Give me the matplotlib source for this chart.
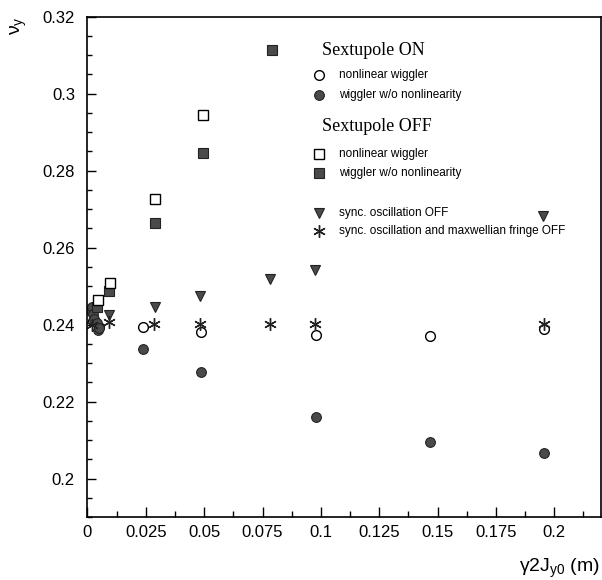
import numpy as np
from matplotlib import pyplot as plt
from matplotlib.ticker import MultipleLocator, FixedFormatter, FixedLocator

plt.rcParams['font.family'] = ['Liberation Sans', 'DejaVu Sans']
plt.rcParams['mathtext.fontset'] = 'custom'
plt.rcParams['mathtext.rm'] = 'Liberation Sans'
plt.rcParams['mathtext.it'] = 'Liberation Sans'

# Sextupole ON
on_nl_x = [0.0025, 0.0049, 0.0238, 0.0486, 0.0978, 0.1466, 0.1958]
on_nl_y = [0.2410, 0.2395, 0.2394, 0.2381, 0.2373, 0.2371, 0.2389]
on_lin_x = [0.0015, 0.0020, 0.0025, 0.0030, 0.0040, 0.0045, 0.0049, 0.0238, 0.0486, 0.0978, 0.1466, 0.1958]
on_lin_y = [0.2436, 0.2445, 0.2428, 0.2415, 0.2403, 0.2387, 0.2392, 0.2337, 0.2277, 0.2160, 0.2095, 0.2067]

# Sextupole OFF
off_nl_x = [0.0045, 0.0096, 0.0289, 0.0494]
off_nl_y = [0.2464, 0.2508, 0.2727, 0.2945]
off_lin_x = [0.0040, 0.0092, 0.0289, 0.0494, 0.0791]
off_lin_y = [0.2446, 0.2487, 0.2665, 0.2847, 0.3113]

sync_x = [0.0092, 0.0289, 0.0482, 0.0781, 0.0974, 0.1950]
sync_y = [0.2425, 0.2446, 0.2474, 0.2519, 0.2542, 0.2682]
fringe_x = [0.0019, 0.0092, 0.0285, 0.0482, 0.0781, 0.0974, 0.1958]
fringe_y = [0.2399, 0.2407, 0.2402, 0.2402, 0.2402, 0.2402, 0.2402]

GRAY = '#4a4a4a'
EDGE = '#222222'

fig = plt.figure(figsize=(6.02, 5.80), dpi=100)
ax = fig.add_axes([0.1453, 0.1086, 0.8530, 0.8626])

st_open_c = dict(marker='o', ls='none', ms=7, mfc='white', mec='black', mew=1.0)
st_fill_c = dict(marker='o', ls='none', ms=7, mfc=GRAY, mec=EDGE, mew=0.8)
st_open_s = dict(marker='s', ls='none', ms=7, mfc='white', mec='black', mew=1.0)
st_fill_s = dict(marker='s', ls='none', ms=7, mfc=GRAY, mec=EDGE, mew=0.8)
st_tri = dict(marker='v', ls='none', ms=7.5, mfc=GRAY, mec=EDGE, mew=0.8)
st_ast = dict(marker=(6, 2, 0), ls='none', ms=9, mec='#222222', mew=1.0)

ax.plot(on_nl_x, on_nl_y, **st_open_c)
ax.plot(on_lin_x, on_lin_y, **st_fill_c)
ax.plot(off_lin_x, off_lin_y, **st_fill_s)
ax.plot(off_nl_x, off_nl_y, **st_open_s)
ax.plot(sync_x, sync_y, **st_tri)
ax.plot(fringe_x, fringe_y, **st_ast)

ax.set_xlim(0, 0.22)
ax.set_ylim(0.19, 0.32)

xt = [0, 0.025, 0.05, 0.075, 0.1, 0.125, 0.15, 0.175, 0.2]
xl = ['0', '0.025', '0.05', '0.075', '0.1', '0.125', '0.15', '0.175', '0.2']
yt = [0.2, 0.22, 0.24, 0.26, 0.28, 0.3, 0.32]
yl = ['0.2', '0.22', '0.24', '0.26', '0.28', '0.3', '0.32']
ax.xaxis.set_major_locator(FixedLocator(xt))
ax.xaxis.set_major_formatter(FixedFormatter(xl))
ax.xaxis.set_minor_locator(MultipleLocator(0.0125))
ax.yaxis.set_major_locator(FixedLocator(yt))
ax.yaxis.set_major_formatter(FixedFormatter(yl))
ax.yaxis.set_minor_locator(MultipleLocator(0.005))

ax.tick_params(which='both', direction='in', top=False, right=False, labelsize=12)
ax.tick_params(axis='y', which='major', length=6.5, width=1, pad=9)
ax.tick_params(axis='y', which='minor', length=3.5, width=1)
ax.tick_params(axis='x', which='major', length=7, width=1, pad=6)
ax.tick_params(axis='x', which='minor', length=4, width=1)
for sp in ax.spines.values():
    sp.set_linewidth(1.2)

# legend block
tr = ax.transAxes
mx, tx, hx = 0.451, 0.490, 0.457
ax.text(hx, 0.933, 'Sextupole ON', transform=tr, family='Liberation Serif', fontsize=13, va='center')
ax.plot([mx], [0.883], transform=tr, clip_on=False, **st_open_c)
ax.text(tx, 0.883, 'nonlinear wiggler', transform=tr, fontsize=8.5, va='center')
ax.plot([mx], [0.844], transform=tr, clip_on=False, **st_fill_c)
ax.text(tx, 0.844, 'wiggler w/o nonlinearity', transform=tr, fontsize=8.5, va='center')
ax.text(hx, 0.780, 'Sextupole OFF', transform=tr, family='Liberation Serif', fontsize=13, va='center')
ax.plot([mx], [0.726], transform=tr, clip_on=False, **st_open_s)
ax.text(tx, 0.726, 'nonlinear wiggler', transform=tr, fontsize=8.5, va='center')
ax.plot([mx], [0.688], transform=tr, clip_on=False, **st_fill_s)
ax.text(tx, 0.688, 'wiggler w/o nonlinearity', transform=tr, fontsize=8.5, va='center')
ax.plot([mx], [0.608], transform=tr, clip_on=False, **st_tri)
ax.text(tx, 0.608, 'sync. oscillation OFF', transform=tr, fontsize=8.5, va='center')
ax.plot([mx], [0.572], transform=tr, clip_on=False, **st_ast)
ax.text(tx, 0.572, 'sync. oscillation and maxwellian fringe OFF', transform=tr, fontsize=8.5, va='center')

fig.text(19 / 602, 1 - 26 / 580, r'ν$_{\rm y}$', rotation=90, fontsize=14, ha='center', va='center')
fig.text(600 / 602, 1 - 572 / 580, r'γ2J$_{\rm y0}$ (m)', fontsize=14, ha='right', va='baseline')

fig.savefig('out.png', dpi=100)
